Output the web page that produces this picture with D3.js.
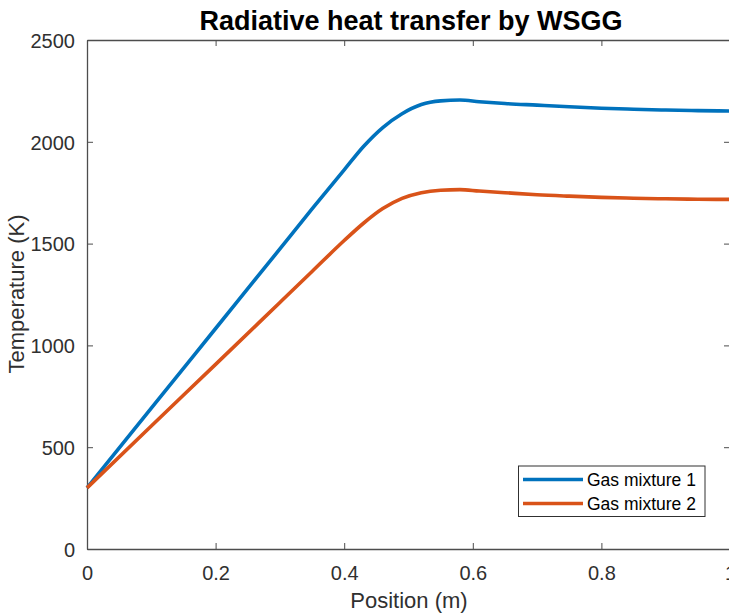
<!DOCTYPE html>
<html>
<head>
<meta charset="utf-8">
<script src="https://cdn.jsdelivr.net/npm/d3@7"></script>
<style>
  html, body { margin: 0; padding: 0; background: #fff; }
  svg { display: block; font-family: "Liberation Sans", Arial, Helvetica, sans-serif; }
</style>
</head>
<body>
<svg id="chart" width="729" height="613"></svg>
<script>
// Position along the domain (m)
const positions = [0, 0.1, 0.2, 0.3, 0.35, 0.40, 0.43, 0.46, 0.49, 0.52, 0.55, 0.58, 0.61, 0.65, 0.7, 0.75, 0.8, 0.85, 0.9, 0.95, 1.0];
// Temperature profiles (K)
const mixture1 = [300, 692, 1083, 1474, 1670, 1862, 1977, 2070, 2138, 2183, 2201, 2205, 2197, 2188, 2180, 2172, 2165, 2160, 2156, 2153, 2151];
const mixture2 = [300, 604, 907, 1211, 1363, 1515, 1600, 1672, 1722, 1750, 1762, 1765, 1758, 1750, 1740, 1733, 1727, 1723, 1720, 1718, 1717];
const seriesNames = ["Gas mixture 1", "Gas mixture 2"];
const seriesColors = ["#0072BD", "#D95319"];
const xTicks = [0, 0.2, 0.4, 0.6, 0.8, 1];
const yTicks = [0, 500, 1000, 1500, 2000, 2500];

const svg = d3.select("#chart");
const plotLeft = 87, plotRight = 730, plotTop = 40, plotBottom = 549;

const x = d3.scaleLinear().domain([0, 1]).range([plotLeft, plotRight]);
const y = d3.scaleLinear().domain([0, 2500]).range([plotBottom, plotTop]);

const axisColor = "#4d4d4d";
const textColor = "#303030";
const tickLen = 6;

// Title
svg.append("text")
  .attr("x", 411).attr("y", 30)
  .attr("text-anchor", "middle")
  .attr("font-size", 27).attr("font-weight", "bold")
  .attr("fill", "#000")
  .text("Radiative heat transfer by WSGG");

// Bottom axis (ticks inward)
const gx = svg.append("g").attr("transform", `translate(0,${plotBottom})`)
  .call(d3.axisBottom(x).tickValues(xTicks).tickFormat(d3.format("")).tickSizeInner(-tickLen).tickSizeOuter(0).tickPadding(17));
// Left axis (ticks inward)
const gy = svg.append("g").attr("transform", `translate(${plotLeft},0)`)
  .call(d3.axisLeft(y).tickValues(yTicks).tickFormat(d3.format("")).tickSizeInner(-tickLen).tickSizeOuter(0).tickPadding(12));
// Top and right box edges with inward ticks, no labels
const gt = svg.append("g").attr("transform", `translate(0,${plotTop})`)
  .call(d3.axisTop(x).tickValues(xTicks).tickFormat("").tickSizeInner(-tickLen).tickSizeOuter(0));
const gr = svg.append("g").attr("transform", `translate(${plotRight},0)`)
  .call(d3.axisRight(y).tickValues(yTicks).tickFormat("").tickSizeInner(-tickLen).tickSizeOuter(0));

[gx, gy, gt, gr].forEach(g => {
  g.select(".domain").attr("stroke", axisColor).attr("stroke-width", 1.3);
  g.selectAll(".tick line").attr("stroke", axisColor).attr("stroke-width", 1);
  g.selectAll(".tick text").attr("fill", textColor).attr("font-size", 20)
    .attr("font-family", "Liberation Sans, Arial, sans-serif");
});
gx.selectAll(".tick text").attr("dy", "0.71em");
gy.selectAll(".tick text").attr("dy", "0.36em");

// Axis labels
svg.append("text")
  .attr("x", 409).attr("y", 608)
  .attr("text-anchor", "middle")
  .attr("font-size", 22).attr("fill", textColor)
  .text("Position (m)");
svg.append("text")
  .attr("transform", "translate(24,294) rotate(-90)")
  .attr("text-anchor", "middle")
  .attr("font-size", 22).attr("fill", textColor)
  .text("Temperature (K)");

// Temperature curves
const line = d3.line()
  .x(d => x(d[0]))
  .y(d => y(d[1]))
  .curve(d3.curveMonotoneX);

const series = [mixture1, mixture2];
series.forEach((vals, i) => {
  svg.append("path")
    .datum(positions.map((p, k) => [p, vals[k]]))
    .attr("fill", "none")
    .attr("stroke", seriesColors[i])
    .attr("stroke-width", 3.6)
    .attr("stroke-linejoin", "round")
    .attr("d", line);
});

// Legend
const lg = svg.append("g");
lg.append("rect")
  .attr("x", 518.5).attr("y", 466)
  .attr("width", 186.5).attr("height", 50.5)
  .attr("fill", "#fff").attr("stroke", textColor).attr("stroke-width", 1);
seriesNames.forEach((name, i) => {
  const yy = 479.5 + i * 24;
  lg.append("line")
    .attr("x1", 523).attr("x2", 583)
    .attr("y1", yy).attr("y2", yy)
    .attr("stroke", seriesColors[i]).attr("stroke-width", 3.6);
  lg.append("text")
    .attr("x", 587).attr("y", yy)
    .attr("dy", "0.36em")
    .attr("font-size", 17.5).attr("fill", "#000")
    .text(name);
});
</script>
</body>
</html>
